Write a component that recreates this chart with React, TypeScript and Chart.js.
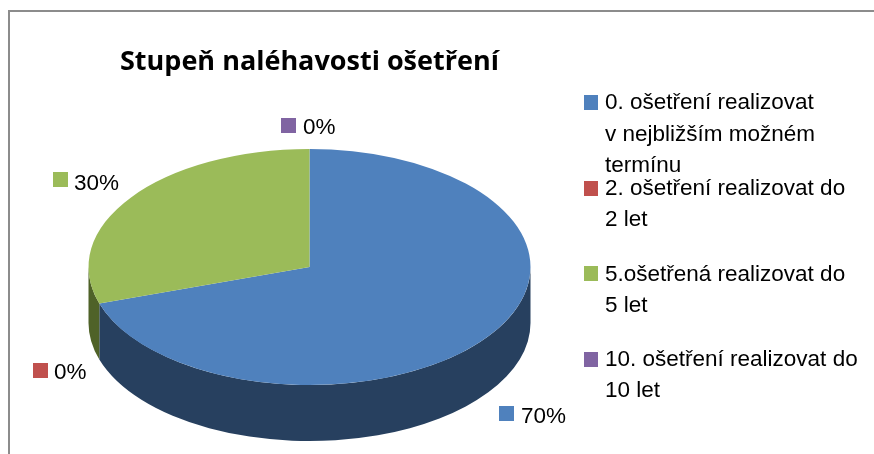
import React, { useEffect, useRef } from "react";
import { Chart, registerables } from "chart.js";

Chart.register(...registerables);

const chartTitle = "Stupeň naléhavosti ošetření";
const categories = [
  "0. ošetření realizovat v nejbližším možném termínu",
  "2. ošetření realizovat do 2 let",
  "5.ošetřená realizovat do 5 let",
  "10. ošetření realizovat do 10 let",
];
const values = [70, 0, 30, 0];
const colors = ["#4f81bd", "#c0504d", "#9bbb59", "#8064a2"];
const sideColors = ["#27405f", "#632523", "#4f6228", "#3f3151"];
const legendLines = [
  ["0. ošetření realizovat", "v nejbližším možném", "termínu"],
  ["2. ošetření realizovat do", "2 let"],
  ["5.ošetřená realizovat do", "5 let"],
  ["10. ošetření realizovat do", "10 let"],
];

const TILT = 118 / 221;
const DEPTH = 56;
const FONT = '22.5px "Liberation Sans", Arial, sans-serif';

const legendLayout = [
  { boxY: 95, baselines: [109, 141, 172] },
  { boxY: 181, baselines: [195, 226] },
  { boxY: 266, baselines: [281, 312] },
  { boxY: 352, baselines: [366, 397] },
];
const labelLayout = [
  { boxX: 499, boxY: 406, textX: 521, baseline: 423 },
  { boxX: 33, boxY: 363, textX: 54, baseline: 379 },
  { boxX: 53, boxY: 172, textX: 74, baseline: 190 },
  { boxX: 281, boxY: 118, textX: 303, baseline: 134 },
];

const pie3d = {
  id: "pie3d",
  beforeDraw(chart: any) {
    const { ctx } = chart;
    ctx.save();
    ctx.fillStyle = "#ffffff";
    ctx.fillRect(0, 0, chart.width, chart.height);
    ctx.strokeStyle = "#8c8c8c";
    ctx.lineWidth = 2;
    ctx.beginPath();
    ctx.moveTo(9, chart.height);
    ctx.lineTo(9, 11);
    ctx.lineTo(chart.width, 11);
    ctx.stroke();
    ctx.restore();
  },
  beforeDatasetsDraw(chart: any) {
    const { ctx } = chart;
    const arcs = chart.getDatasetMeta(0).data;
    const first = arcs[0];
    const cy = first.y;
    const ry = first.outerRadius * TILT;
    arcs.forEach((arc: any, i: number) => {
      const a = Math.max(arc.startAngle, 0);
      const b = Math.min(arc.endAngle, Math.PI);
      if (b <= a) return;
      ctx.save();
      ctx.fillStyle = sideColors[i];
      ctx.beginPath();
      ctx.ellipse(arc.x, cy, arc.outerRadius, ry, 0, a, b);
      ctx.ellipse(arc.x, cy + DEPTH, arc.outerRadius, ry, 0, b, a, true);
      ctx.closePath();
      ctx.fill();
      ctx.restore();
    });
    ctx.save();
    ctx.translate(0, cy);
    ctx.scale(1, TILT);
    ctx.translate(0, -cy);
  },
  afterDatasetsDraw(chart: any) {
    const { ctx } = chart;
    ctx.restore();
    ctx.save();
    ctx.textBaseline = "alphabetic";
    ctx.textAlign = "left";
    ctx.fillStyle = "#000000";
    ctx.font = 'bold 27px "Open Sans", sans-serif';
    ctx.fillText(chartTitle, 120, 70);
    ctx.font = FONT;
    const total = values.reduce((s, v) => s + v, 0);
    labelLayout.forEach((l, i) => {
      ctx.fillStyle = colors[i];
      ctx.fillRect(l.boxX, l.boxY, 15, 15);
      ctx.fillStyle = "#000000";
      ctx.fillText(`${Math.round((values[i] / total) * 100)}%`, l.textX, l.baseline);
    });
    legendLayout.forEach((l, i) => {
      ctx.fillStyle = colors[i];
      ctx.fillRect(584, l.boxY, 14, 15);
      ctx.fillStyle = "#000000";
      legendLines[i].forEach((line, j) => ctx.fillText(line, 605, l.baselines[j]));
    });
    ctx.restore();
  },
};

export default function App() {
  const ref = useRef<HTMLCanvasElement>(null);
  useEffect(() => {
    const chart = new Chart(ref.current as HTMLCanvasElement, {
      type: "pie",
      data: {
        labels: categories,
        datasets: [{ data: values, backgroundColor: colors, borderWidth: 0 }],
      },
      options: {
        responsive: false,
        animation: false,
        radius: 221,
        layout: { padding: { left: 0, right: 255, top: 80, bottom: 0 } },
        plugins: { legend: { display: false }, tooltip: { enabled: false }, title: { display: false } },
      },
      plugins: [pie3d],
    } as any);
    return () => chart.destroy();
  }, []);
  return (
    <div style={{ position: "fixed", left: 0, top: 0, width: 874, height: 454 }}>
      <canvas ref={ref} width={874} height={454} style={{ display: "block" }} />
    </div>
  );
}
